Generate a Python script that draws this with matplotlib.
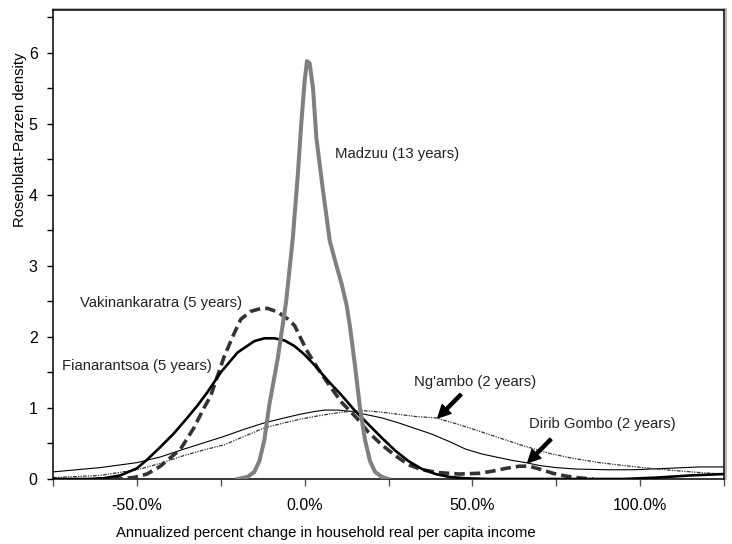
import matplotlib
matplotlib.use("Agg")
import matplotlib.pyplot as plt
from matplotlib.ticker import FixedLocator, FuncFormatter
from matplotlib.lines import Line2D

plt.rcParams['font.family'] = ['Liberation Sans', 'DejaVu Sans']

# ---- data (x in annualized % change, y = density) ----
madzuu_x = [-20, -17, -15, -13.5, -12, -10.5, -8, -5.5, -3.5, -2, -1, 0, 0.7, 1.5, 2.5, 3.5, 5.5,
            7.5, 9.5, 11, 12.5, 13.5, 15, 16.5, 18, 19.5, 21, 23, 25]
madzuu_y = [0, 0.03, 0.1, 0.25, 0.55, 1.05, 1.7, 2.5, 3.4, 4.3, 5.0, 5.6, 5.88, 5.85, 5.5, 4.8,
            4.05, 3.35, 3.0, 2.75, 2.45, 2.15, 1.6, 1.0, 0.55, 0.25, 0.1, 0.03, 0]

fian_x = [-75, -65, -60, -55, -50, -47, -43, -39, -35, -32, -29, -25, -20, -15, -12, -9, -6, -3,
          0, 3, 7, 11, 15, 19, 23, 27, 31, 35, 39, 43, 48, 55, 65, 80, 95, 105, 115, 125]
fian_y = [0, 0, 0.01, 0.05, 0.15, 0.27, 0.45, 0.64, 0.86, 1.03, 1.22, 1.5, 1.78, 1.94, 1.98, 1.98,
          1.95, 1.87, 1.75, 1.6, 1.38, 1.18, 0.96, 0.77, 0.58, 0.4, 0.25, 0.14, 0.07, 0.03, 0.01,
          0, 0, 0, 0, 0.02, 0.05, 0.07]

vak_x = [-62, -55, -51, -47, -43, -40, -37, -33, -30, -28, -24, -21, -19, -16, -13, -11, -8, -5,
         -3, 0.5, 4, 7.5, 11, 15.5, 19, 23, 27, 31, 35, 40, 46, 52, 56, 60, 64, 67, 70, 74, 78, 82, 86]
vak_y = [0, 0.005, 0.02, 0.07, 0.18, 0.3, 0.42, 0.72, 1.0, 1.17, 1.72, 2.05, 2.25, 2.36, 2.4, 2.4,
         2.35, 2.25, 2.16, 1.82, 1.55, 1.31, 1.08, 0.86, 0.66, 0.48, 0.33, 0.2, 0.13, 0.09, 0.07,
         0.08, 0.11, 0.15, 0.18, 0.18, 0.14, 0.08, 0.04, 0.015, 0]

dirib_x = [-75, -61, -50, -43, -36, -30, -24, -18, -12, -6, -1.5, 3, 6, 10, 14, 18, 23, 28, 33,
           38, 43, 48, 53, 58, 62, 66, 70, 75, 81, 90, 98, 108, 118, 125]
dirib_y = [0.1, 0.16, 0.23, 0.31, 0.42, 0.51, 0.6, 0.7, 0.79, 0.86, 0.91, 0.95, 0.97, 0.97, 0.95,
           0.91, 0.86, 0.79, 0.71, 0.63, 0.53, 0.42, 0.35, 0.3, 0.26, 0.23, 0.19, 0.16, 0.14, 0.13,
           0.13, 0.15, 0.17, 0.17]

ngambo_x = [-75, -61, -50, -43, -36, -30, -24, -18, -12, -6, -1.5, 3, 8, 13, 18, 23, 28, 33, 39,
            45, 51, 58, 65, 73, 80, 88, 95, 103, 110, 118, 125]
ngambo_y = [0.02, 0.05, 0.13, 0.22, 0.33, 0.41, 0.48, 0.6, 0.72, 0.79, 0.84, 0.88, 0.92, 0.95,
            0.96, 0.94, 0.91, 0.88, 0.86, 0.78, 0.69, 0.58, 0.47, 0.36, 0.29, 0.23, 0.19, 0.15,
            0.12, 0.09, 0.07]

x_major = [-50, 0, 50, 100]
x_minor = [-75, -25, 25, 75, 125]
y_major = [0, 1, 2, 3, 4, 5, 6]
y_minor = [0.5, 1.5, 2.5, 3.5, 4.5, 5.5, 6.5]

W, H = 732, 544
fig = plt.figure(figsize=(W / 100, H / 100), dpi=100)
ax = fig.add_axes([53 / W, 1 - 479 / H, (724 - 53) / W, (479 - 10) / H])

ax.plot(dirib_x, dirib_y, color='black', lw=0.8, zorder=2)
ax.plot(ngambo_x, ngambo_y, color='#333333', lw=0.9, linestyle=(0, (3, 1, 1, 1, 1, 1)), zorder=2)
ax.plot(vak_x, vak_y, color='#333333', lw=2.6, dashes=(2.9, 1.4), zorder=3)
ax.plot(fian_x, fian_y, color='black', lw=1.9, zorder=4)
ax.plot(madzuu_x, madzuu_y, color='#808080', lw=2.9, zorder=5, solid_joinstyle='round')

ax.set_xlim(-75, 125)
ax.set_ylim(0, 6.6)

ax.xaxis.set_major_locator(FixedLocator(x_major))
ax.xaxis.set_minor_locator(FixedLocator(x_minor))
ax.xaxis.set_major_formatter(FuncFormatter(lambda v, p: f"{v:.1f}%"))
ax.yaxis.set_major_locator(FixedLocator(y_major))
ax.yaxis.set_minor_locator(FixedLocator(y_minor))

ax.tick_params(axis='x', which='both', direction='out', length=5, width=1, color='#555555',
               labelsize=11.5, pad=9)
ax.tick_params(axis='y', which='both', direction='out', length=4, width=1, color='black',
               labelsize=11.5, pad=7)

for s in ax.spines.values():
    s.set_linewidth(1.1)
    s.set_color('black')

# shadow lines (grey) on top and right of plot area
ax.add_line(Line2D([0, 1.003], [1.003, 1.003], transform=ax.transAxes, color='#aaaaaa',
                   lw=1.2, clip_on=False))
ax.add_line(Line2D([1.003, 1.003], [0, 1.003], transform=ax.transAxes, color='#aaaaaa',
                   lw=1.2, clip_on=False))

fs = 10.7
fig.text(20 / W, 1 - 140 / H, "Rosenblatt-Parzen density", fontsize=fs, rotation=90,
         ha='center', va='center')
fig.text(326 / W, 1 - 533 / H, "Annualized percent change in household real per capita income",
         fontsize=fs, ha='center', va='center')

tcol = '#222222'
ax.text(9, 4.58, "Madzuu (13 years)", fontsize=fs, color=tcol, va='center', ha='left')
ax.text(-67, 2.48, "Vakinankaratra (5 years)", fontsize=fs, color=tcol, va='center', ha='left')
ax.text(-72.4, 1.59, "Fianarantsoa (5 years)", fontsize=fs, color=tcol, va='center', ha='left')
ax.text(32.7, 1.36, "Ng'ambo (2 years)", fontsize=fs, color=tcol, va='center', ha='left')
ax.text(67, 0.77, "Dirib Gombo (2 years)", fontsize=fs, color=tcol, va='center', ha='left')

arrow = dict(facecolor='black', edgecolor='black', width=2.2, headwidth=9, headlength=9, shrink=0)
ax.annotate("", xy=(39.7, 0.86), xytext=(46.6, 1.19), arrowprops=arrow, zorder=6)
ax.annotate("", xy=(66.5, 0.23), xytext=(73.4, 0.56), arrowprops=arrow, zorder=6)

fig.savefig("out.png", dpi=100)
